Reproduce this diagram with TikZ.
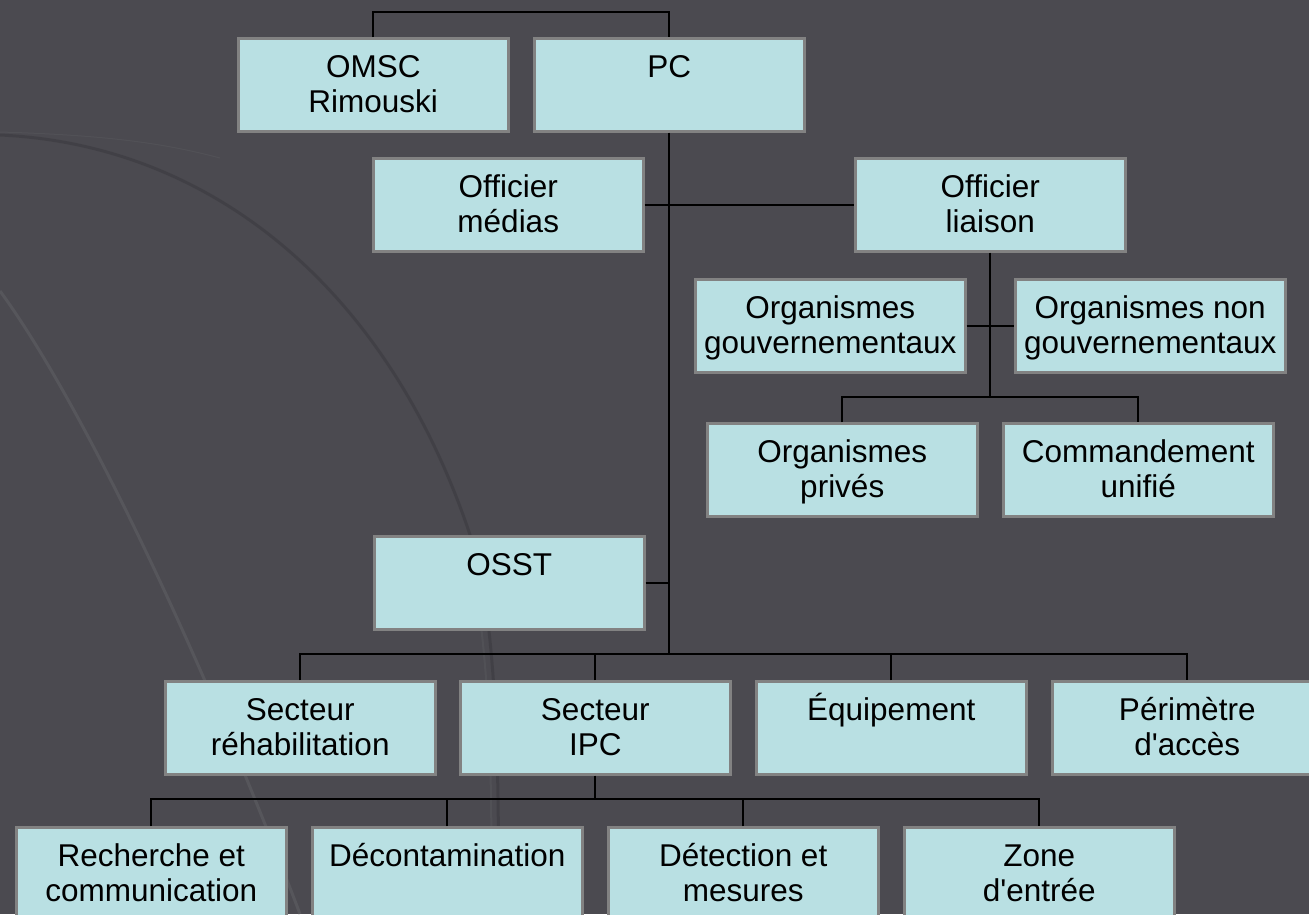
\documentclass[tikz,border=0pt]{standalone}
\usepackage{fontspec}
\setmainfont{Liberation Sans}[Ligatures=TeXOff]
\definecolor{bg}{RGB}{75,74,80}
\definecolor{boxfill}{RGB}{185,224,227}
\definecolor{boxline}{RGB}{130,130,130}
\definecolor{arcdark}{RGB}{62,61,66}
\definecolor{arclight}{RGB}{98,98,102}
\tikzset{
  box/.style={draw=boxline, line width=2.5pt, fill=boxfill, minimum width=270pt, minimum height=93pt, inner sep=0pt, anchor=north west},
  txt/.style={anchor=base, inner sep=0pt, font=\fontsize{31.5pt}{35pt}\selectfont, text=black},
  conn/.style={draw=black, line width=2.2pt},
}
\newcommand{\bxone}[4]{%
  \node[box] (#1) at (#2,#3) {};
  \node[txt] (#1A) at ([yshift=-40pt]#1.north) {#4};}
\newcommand{\bxtwo}[5]{%
  \node[box] (#1) at (#2,#3) {};
  \node[txt] (#1A) at ([yshift=-40pt]#1.north) {#4};
  \node[txt] (#1B) at ([yshift=-75pt]#1.north) {#5};}
\begin{document}
\begin{tikzpicture}[x=1pt,y=-1pt]
\useasboundingbox (0,0) rectangle (1309,914);
\clip (0,0) rectangle (1309,914);
\fill[bg] (0,0) rectangle (1309,914);
% background arcs
\draw[arcdark, line width=3pt, opacity=0.7] (0,135) .. controls (220,145) and (400,300) .. (478,560) .. controls (495,640) and (500,760) .. (498,914);
\draw[arclight, line width=1pt, opacity=0.3] (0,132) .. controls (100,135) and (160,142) .. (220,158);
\draw[arclight, line width=2pt, opacity=0.3] (470,560) .. controls (488,640) and (493,760) .. (491,914);
\draw[arclight, line width=3pt, opacity=0.5] (0,291) .. controls (80,400) and (200,650) .. (300,914);

% boxes
\bxtwo{omsc}{237}{37}{OMSC}{Rimouski}
\bxone{pc}{533}{37}{PC}
\bxtwo{medias}{372}{157}{Officier}{médias}
\bxtwo{liaison}{854}{157}{Officier}{liaison}
\bxtwo{ogouv}{694}{278}{Organismes}{gouvernementaux}
\bxtwo{ongouv}{1014}{278}{Organismes non}{gouvernementaux}
\bxtwo{oprives}{706}{422}{Organismes}{privés}
\bxtwo{cmd}{1002}{422}{Commandement}{unifié}
\bxone{osst}{373}{535}{OSST}
\bxtwo{srehab}{164}{680}{Secteur}{réhabilitation}
\bxtwo{sipc}{459}{680}{Secteur}{IPC}
\bxone{equip}{755}{680}{Équipement}
\bxtwo{perim}{1051}{680}{Périmètre}{d'accès}
\bxtwo{rech}{15}{826}{Recherche et}{communication}
\bxone{decon}{311}{826}{Décontamination}
\bxtwo{detect}{607}{826}{Détection et}{mesures}
\bxtwo{zone}{903}{826}{Zone}{d'entrée}

% connectors
\coordinate (topbar) at (0,12);
\draw[conn] (omsc.north) -- (omsc.north |- topbar) -- (pc.north |- topbar) -- (pc.north);
\coordinate (secbar) at (0,654);
\draw[conn] (pc.south) -- (pc.south |- secbar);
\draw[conn] (medias.east) -- (liaison.west);
\draw[conn] (osst.east) -- (osst.east -| pc.south);
\draw[conn] (srehab.north) -- (srehab.north |- secbar) -- (perim.north |- secbar) -- (perim.north);
\draw[conn] (sipc.north) -- (sipc.north |- secbar);
\draw[conn] (equip.north) -- (equip.north |- secbar);
\coordinate (orgbar) at (0,397);
\draw[conn] (liaison.south) -- (liaison.south |- orgbar);
\draw[conn] (ogouv.east) -- (ongouv.west);
\draw[conn] (oprives.north) -- (oprives.north |- orgbar) -- (cmd.north |- orgbar) -- (cmd.north);
\coordinate (botbar) at (0,799);
\draw[conn] (sipc.south) -- (sipc.south |- botbar);
\draw[conn] (rech.north) -- (rech.north |- botbar) -- (zone.north |- botbar) -- (zone.north);
\draw[conn] (decon.north) -- (decon.north |- botbar);
\draw[conn] (detect.north) -- (detect.north |- botbar);
\end{tikzpicture}
\end{document}
